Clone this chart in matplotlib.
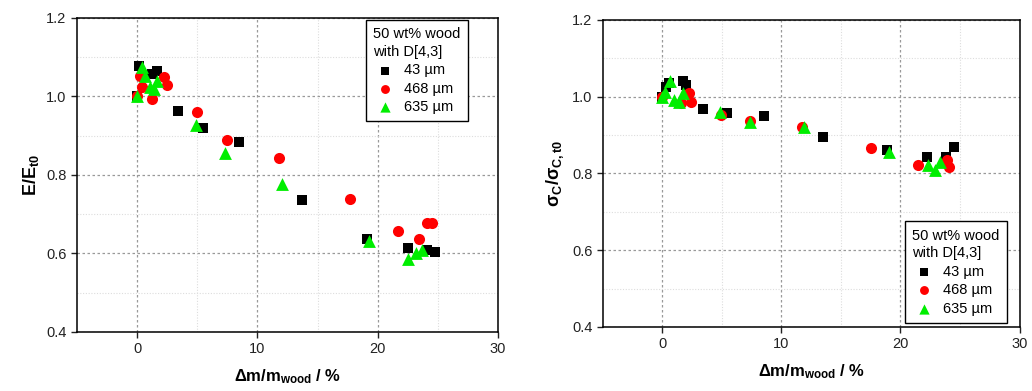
import matplotlib
matplotlib.use("Agg")
import matplotlib.pyplot as plt
from matplotlib.ticker import MultipleLocator, FixedLocator

plt.rcParams['font.family'] = ['Liberation Sans', 'DejaVu Sans']
plt.rcParams['mathtext.fontset'] = 'custom'
plt.rcParams['mathtext.rm'] = 'Liberation Sans'
plt.rcParams['mathtext.bf'] = 'Liberation Sans:bold'
plt.rcParams['mathtext.it'] = 'Liberation Sans:italic'

labels = ['43 µm', '468 µm', '635 µm']

# Left panel: E/E_t0
E_x_43 = [0.0, 0.17, 1.2, 1.66, 3.4, 5.5, 8.5, 13.7, 19.1, 22.5, 24.1, 24.8]
E_y_43 = [1.0, 1.077, 1.058, 1.066, 0.962, 0.92, 0.883, 0.737, 0.638, 0.613, 0.61, 0.605]
E_x_468 = [0.0, 0.25, 0.4, 1.2, 2.2, 2.5, 5.0, 7.5, 11.8, 17.7, 21.7, 23.4, 24.1, 24.5]
E_y_468 = [1.0, 1.053, 1.023, 0.993, 1.05, 1.028, 0.96, 0.888, 0.842, 0.74, 0.656, 0.638, 0.677, 0.677]
E_x_635 = [0.0, 0.4, 0.66, 1.1, 1.4, 1.66, 4.9, 7.3, 12.0, 19.3, 22.5, 23.2, 23.7]
E_y_635 = [1.0, 1.074, 1.053, 1.023, 1.02, 1.04, 0.927, 0.857, 0.778, 0.633, 0.587, 0.60, 0.608]

# Right panel: sigma_C/sigma_C,t0
S_x_43 = [0.0, 0.3, 0.6, 1.75, 2.0, 3.4, 5.4, 8.5, 13.5, 18.9, 22.2, 23.8, 24.5]
S_y_43 = [1.0, 1.026, 1.036, 1.04, 1.03, 0.969, 0.958, 0.95, 0.896, 0.86, 0.844, 0.844, 0.87]
S_x_468 = [0.0, 1.6, 2.25, 2.4, 4.9, 7.35, 11.7, 17.5, 21.5, 23.9, 24.1]
S_y_468 = [1.0, 0.984, 1.01, 0.987, 0.953, 0.936, 0.922, 0.865, 0.823, 0.836, 0.818]
S_x_635 = [0.0, 0.2, 0.66, 1.0, 1.4, 1.75, 4.85, 7.35, 11.9, 19.05, 22.3, 22.9, 23.3]
S_y_635 = [1.0, 1.013, 1.04, 0.992, 0.987, 1.01, 0.96, 0.935, 0.922, 0.855, 0.823, 0.81, 0.83]

fig = plt.figure(figsize=(10.32, 3.91), dpi=100)
ax1 = fig.add_axes([0.0746, 0.151, 0.408, 0.803])
ax2 = fig.add_axes([0.584, 0.164, 0.404, 0.785])

styles = [dict(marker='s', color='black', s=52),
          dict(marker='o', color='#ff0000', s=64),
          dict(marker='^', color='#00ee00', s=85)]

def setup(ax, data, ylabel, legend_loc, anchor):
    for (x, y), st, lab in zip(data, styles, labels):
        ax.scatter(x, y, marker=st['marker'], c=st['color'], s=st['s'],
                   linewidths=0, label=lab, zorder=3)
    ax.set_xlim(-5, 30)
    ax.set_ylim(0.4, 1.2)
    ax.xaxis.set_major_locator(FixedLocator([0, 10, 20, 30]))
    ax.xaxis.set_minor_locator(FixedLocator([5, 15, 25]))
    ax.yaxis.set_major_locator(MultipleLocator(0.2))
    ax.yaxis.set_minor_locator(MultipleLocator(0.1))
    ax.yaxis.set_major_formatter(matplotlib.ticker.FormatStrFormatter('%.1f'))
    ax.grid(which='major', color='#999999', linestyle=(0, (2, 2)), linewidth=0.9, zorder=0)
    ax.grid(which='minor', color='#dddddd', linestyle=(0, (1, 1.5)), linewidth=0.8, zorder=0)
    ax.tick_params(which='major', direction='out', length=4, width=1, labelsize=10.5,
                   top=False, right=False, colors='#222222')
    ax.tick_params(which='minor', length=0)
    for sp in ax.spines.values():
        sp.set_linewidth(1.1)
    ax.set_xlabel(r'Δm/m$_{\mathbf{wood}}$ / %', fontsize=12, fontweight='bold', labelpad=8)
    ax.set_ylabel(ylabel, fontsize=13, fontweight='bold', labelpad=4)
    leg = ax.legend(loc=legend_loc, bbox_to_anchor=anchor,
                    title='50 wt% wood\nwith D[4,3]', fontsize=10.5,
                    title_fontsize=10.5, frameon=True, fancybox=False, edgecolor='black',
                    framealpha=1, markerscale=0.8, handletextpad=0.5, borderpad=0.5,
                    labelspacing=0.3, handlelength=1.6, borderaxespad=0.0)
    leg.get_frame().set_linewidth(1.0)
    leg.get_title().set_linespacing(1.35)
    leg._legend_box.align = 'left'

setup(ax1, [(E_x_43, E_y_43), (E_x_468, E_y_468), (E_x_635, E_y_635)],
      r'E/E$_{\mathbf{t0}}$', 'upper right', (0.929, 0.994))
setup(ax2, [(S_x_43, S_y_43), (S_x_468, S_y_468), (S_x_635, S_y_635)],
      r'σ$_{\mathbf{C}}$/σ$_{\mathbf{C,t0}}$', 'lower right', (0.969, 0.013))

fig.savefig('out.png', dpi=100)
